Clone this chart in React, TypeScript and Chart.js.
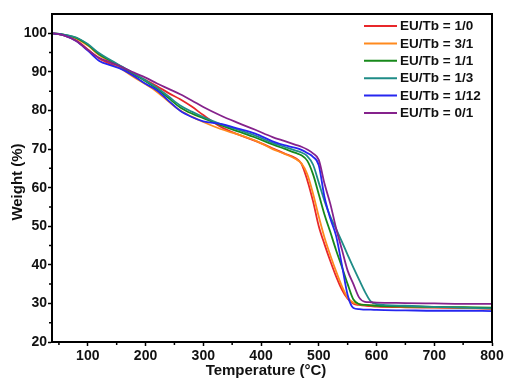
import React, { useEffect, useRef } from "react";
import { Chart, registerables } from "chart.js";

Chart.register(...registerables);

// Temperature grid (°C)
const temperatures = [
  40, 60, 80, 100, 120, 140, 160, 180, 200, 220, 240, 260, 280, 300, 330, 360, 390, 420,
  440, 460, 470, 480, 490, 500, 510, 520, 530, 540, 550, 560, 570, 580, 590, 600, 650,
  700, 750, 800,
];

const seriesLabels = [
  "EU/Tb = 1/0",
  "EU/Tb = 3/1",
  "EU/Tb = 1/1",
  "EU/Tb = 1/3",
  "EU/Tb = 1/12",
  "EU/Tb = 0/1",
];

const seriesColors = ["#e8272a", "#ff8a1e", "#17891a", "#1f8c87", "#2626f0", "#85228c"];

// Weight (%) values per series at each temperature
const weight_1_0 = [
  100, 99.4, 98.2, 95.8, 93.5, 92.0, 90.8, 89.3, 87.9, 86.3, 84.5, 82.9, 81.0, 78.8, 75.8,
  73.8, 72.1, 70.2, 68.9, 67.6, 66.2, 62.0, 56.5, 50.0, 45.3, 41.0, 37.0, 33.6, 31.2, 29.9,
  29.6, 29.4, 29.3, 29.2, 29.0, 28.9, 28.8, 28.6,
];
const weight_3_1 = [
  100, 99.5, 98.6, 96.8, 94.3, 92.5, 90.6, 88.6, 86.8, 84.8, 82.3, 80.0, 78.4, 77.0, 75.2,
  73.8, 72.2, 70.0, 68.8, 67.4, 66.3, 63.5, 58.5, 52.5, 47.0, 42.5, 38.3, 34.5, 31.5, 30.2,
  29.8, 29.6, 29.5, 29.4, 29.2, 29.0, 28.9, 28.7,
];
const weight_1_1 = [
  100, 99.6, 98.8, 97.0, 94.5, 92.8, 91.2, 89.4, 87.6, 85.6, 83.2, 80.8, 79.2, 78.0, 76.2,
  74.6, 73.0, 71.2, 70.1, 69.0, 68.4, 67.0, 63.5, 58.3, 53.0, 48.5, 43.8, 39.5, 35.0, 31.0,
  29.8, 29.6, 29.5, 29.4, 29.2, 29.1, 29.0, 28.9,
];
const weight_1_3 = [
  100, 99.6, 98.9, 97.2, 94.8, 93.0, 91.3, 89.6, 87.8, 85.9, 83.6, 81.3, 79.7, 78.3, 76.5,
  75.0, 73.5, 71.6, 70.6, 69.6, 69.1, 68.2, 66.0, 61.3, 56.5, 52.5, 49.3, 46.0, 42.6, 39.3,
  36.1, 33.0, 30.5, 29.8, 29.4, 29.1, 28.9, 28.7,
];
const weight_1_12 = [
  100, 99.4, 98.0, 95.5, 92.8, 91.7, 90.6, 88.9, 86.9, 85.2, 82.5, 79.9, 78.3, 77.2, 76.5,
  75.3, 74.0, 72.0, 71.0, 70.3, 69.8, 69.0, 68.0, 65.8, 57.5, 52.0, 47.5, 40.0, 32.2, 28.8,
  28.5, 28.4, 28.4, 28.3, 28.2, 28.1, 28.1, 28.0,
];
const weight_0_1 = [
  100, 99.4, 98.0, 95.7, 93.6, 92.4, 91.2, 89.8, 88.5, 87.0, 85.6, 84.2, 82.6, 80.9, 78.7,
  76.8, 75.0, 73.1, 72.1, 71.1, 70.6, 69.9, 68.9, 67.2, 61.0, 55.8, 49.5, 44.0, 38.5, 35.0,
  31.5, 30.4, 30.3, 30.2, 30.1, 30.0, 29.9, 29.9,
];

const allSeries = [weight_1_0, weight_3_1, weight_1_1, weight_1_3, weight_1_12, weight_0_1];

const xMin = 38;
const xMax = 800;
const yMin = 20;
const yMax = 105;
const xMinorTicks = [50, 150, 250, 350, 450, 550, 650, 750];
const yMinorTicks = [25, 35, 45, 55, 65, 75, 85, 95];

const FONT = "'Liberation Sans', Arial, sans-serif";

const decorPlugin = {
  id: "decor",
  afterDraw(chart: any) {
    const { ctx, chartArea, scales } = chart;
    const { left, right, top, bottom } = chartArea;
    ctx.save();
    // frame
    ctx.strokeStyle = "#000";
    ctx.lineWidth = 2;
    ctx.strokeRect(left, top, right - left, bottom - top);
    // minor ticks
    ctx.lineWidth = 1.5;
    ctx.beginPath();
    for (const v of xMinorTicks) {
      const x = scales.x.getPixelForValue(v);
      ctx.moveTo(x, bottom);
      ctx.lineTo(x, bottom + 3);
    }
    for (const v of yMinorTicks) {
      const y = scales.y.getPixelForValue(v);
      ctx.moveTo(left, y);
      ctx.lineTo(left - 3, y);
    }
    ctx.stroke();

    // axis titles
    ctx.fillStyle = "#111";
    ctx.font = `bold 15px ${FONT}`;
    ctx.textAlign = "center";
    ctx.textBaseline = "middle";
    ctx.fillText("Temperature (°C)", 266, 371);
    ctx.save();
    ctx.translate(18, 182);
    ctx.rotate(-Math.PI / 2);
    ctx.fillText("Weight (%)", 0, 0);
    ctx.restore();

    // legend
    ctx.font = `bold 13.5px ${FONT}`;
    ctx.textAlign = "left";
    chart.data.datasets.forEach((ds: any, i: number) => {
      const y = 26 + i * 17.4;
      ctx.strokeStyle = ds.borderColor;
      ctx.lineWidth = 2;
      ctx.beginPath();
      ctx.moveTo(364, y);
      ctx.lineTo(397, y);
      ctx.stroke();
      ctx.fillStyle = "#111";
      ctx.fillText(ds.label, 400, y + 0.5);
    });
    ctx.restore();
  },
};

export default function App() {
  const ref = useRef<HTMLCanvasElement>(null);
  useEffect(() => {
    document.body.style.margin = "0";
    const canvas = ref.current!;
    const datasets = allSeries.map((vals, i) => ({
      label: seriesLabels[i],
      data: temperatures.map((t, j) => ({ x: t, y: vals[j] })),
      borderColor: seriesColors[i],
      backgroundColor: seriesColors[i],
      borderWidth: 1.8,
      pointRadius: 0,
      fill: false,
      cubicInterpolationMode: "monotone" as const,
      order: allSeries.length - i,
    }));
    const chart = new Chart(canvas, {
      type: "line",
      data: { datasets },
      options: {
        animation: false,
        responsive: false,
        devicePixelRatio: 1,
        layout: { padding: { top: 14, right: 14, left: 0, bottom: 0 } },
        plugins: { legend: { display: false }, tooltip: { enabled: false } },
        scales: {
          x: {
            type: "linear",
            min: xMin,
            max: xMax,
            afterFit: (s: any) => {
              s.height = 39;
            },
            border: { display: true, color: "#000", width: 2 },
            grid: {
              drawOnChartArea: false,
              drawTicks: true,
              tickLength: 4,
              tickWidth: 1.5,
              tickColor: "#000",
            },
            ticks: {
              stepSize: 100,
              includeBounds: false,
              color: "#111",
              padding: 2,
              maxRotation: 0,
              font: { family: FONT, size: 14, weight: "bold" },
            },
          },
          y: {
            type: "linear",
            min: yMin,
            max: yMax,
            afterFit: (s: any) => {
              s.width = 52;
            },
            border: { display: true, color: "#000", width: 2 },
            grid: {
              drawOnChartArea: false,
              drawTicks: true,
              tickLength: 4,
              tickWidth: 1.5,
              tickColor: "#000",
            },
            ticks: {
              stepSize: 10,
              includeBounds: false,
              color: "#111",
              padding: 1,
              font: { family: FONT, size: 14, weight: "bold" },
            },
          },
        },
      },
      plugins: [decorPlugin],
    } as any);
    return () => chart.destroy();
  }, []);
  return (
    <div style={{ width: 506, height: 381 }}>
      <canvas ref={ref} width={506} height={381} />
    </div>
  );
}
